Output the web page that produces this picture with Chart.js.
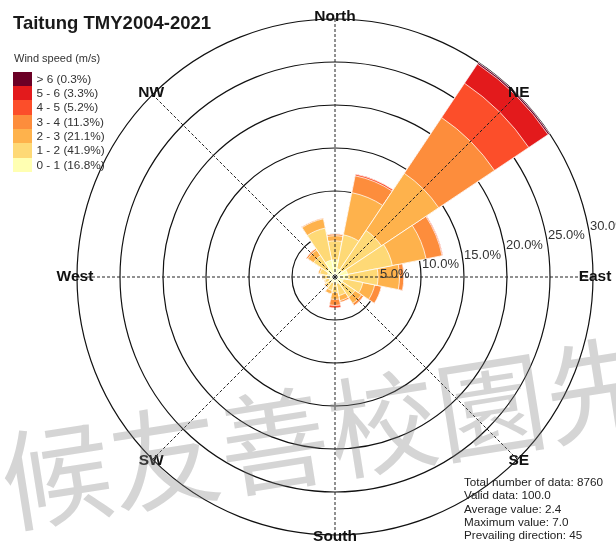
<!DOCTYPE html>
<html>
<head>
<meta charset="utf-8">
<script src="https://cdn.jsdelivr.net/npm/chart.js@4.4.1/dist/chart.umd.min.js"></script>
<style>
html,body{margin:0;padding:0;background:#fff;}
#wrap{position:relative;width:616px;height:548px;overflow:hidden;background:#fff;font-family:"Liberation Sans",Arial,sans-serif;}
#c{position:absolute;left:0;top:0;}
.title{position:absolute;left:13px;top:13.7px;font-size:18.5px;line-height:18.5px;font-weight:bold;color:#1a1a1a;white-space:nowrap;}
.lghead{position:absolute;left:14px;top:50px;font-size:11px;line-height:16px;color:#333;white-space:nowrap;}
.legend{position:absolute;left:13px;top:71.5px;}
.row{display:flex;align-items:center;height:14.35px;}
.sw{width:18.5px;height:14.35px;}
.lab{margin-left:5px;font-size:11.8px;line-height:14.35px;color:#333;white-space:nowrap;}
.stats{position:absolute;left:464px;top:475px;font-size:11.7px;line-height:13.33px;color:#222;white-space:nowrap;}
.wm{position:absolute;left:1px;top:414px;font-family:"Noto Sans CJK TC","Noto Sans CJK SC",sans-serif;font-size:110px;line-height:110px;color:rgba(128,128,128,0.33);white-space:nowrap;transform-origin:55px 60px;transform:rotate(-9deg);pointer-events:none;}
</style>
</head>
<body>
<div id="wrap">
  <canvas id="c" width="616" height="548"></canvas>
  <div class="title" id="title"></div>
  <div class="lghead" id="lghead"></div>
  <div class="legend" id="legend"></div>
  <div class="stats" id="stats"></div>
  <div class="wm" id="wm"></div>
</div>
<script>
// ---------- data ----------
const chartTitle = 'Taitung TMY2004-2021';
const legendTitle = 'Wind speed (m/s)';
const directions = ['N','NNE','NE','ENE','E','ESE','SE','SSE','S','SSW','SW','WSW','W','WNW','NW','NNW'];
const speedBins = ['0 - 1','1 - 2','2 - 3','3 - 4','4 - 5','5 - 6','> 6'];
const binShares = [16.8, 41.9, 21.1, 11.3, 5.2, 3.3, 0.3];
// frequency (%) per direction for each speed bin (N, NNE, NE, ENE, E, ESE, SE, SSE, S, SSW, SW, WSW, W, WNW, NW, NNW)
const freq0to1 = [2.0, 1.0, 1.0, 1.5, 1.5, 1.0, 1.0, 0.8, 0.6, 0.7, 0.7, 0.7, 0.8, 0.9, 1.2, 2.0];
const freq1to2 = [2.2, 4.0, 5.5, 5.3, 3.5, 2.3, 1.8, 1.4, 1.2, 0.9, 0.6, 0.5, 0.6, 0.9, 1.8, 3.8];
const freq2to3 = [0.6, 5.0, 8.0, 4.0, 2.5, 1.4, 0.9, 0.6, 0.8, 0.4, 0.2, 0.1, 0.1, 0.2, 0.8, 1.1];
const freq3to4 = [0.2, 2.0, 7.8, 1.9, 0.5, 0.8, 0.3, 0.2, 0.7, 0.0, 0.0, 0.0, 0.0, 0.0, 0.2, 0.1];
const freq4to5 = [0.0, 0.2, 4.8, 0.1, 0.0, 0.0, 0.0, 0.0, 0.3, 0.0, 0.0, 0.0, 0.0, 0.0, 0.0, 0.0];
const freq5to6 = [0.0, 0.0, 2.7, 0.0, 0.0, 0.0, 0.0, 0.0, 0.0, 0.0, 0.0, 0.0, 0.0, 0.0, 0.0, 0.0];
const freqAbove6 = [0.0, 0.0, 0.2, 0.0, 0.0, 0.0, 0.0, 0.0, 0.0, 0.0, 0.0, 0.0, 0.0, 0.0, 0.0, 0.0];
const ringValues = [5, 10, 15, 20, 25, 30];
const compassLabels = ['North','NE','East','SE','South','SW','West','NW'];
const compassDegrees = [0, 45, 90, 135, 180, 225, 270, 315];
const statsLines = ['Total number of data: 8760','Valid data: 100.0','Average value: 2.4','Maximum value: 7.0','Prevailing direction: 45'];
const watermarkText = '候友善校園先';

// ---------- styles ----------
const binColors = ['#FFFFB2','#FED976','#FEB24C','#FD8D3C','#FC4E2A','#E31A1C','#6B0026'];

// ---------- text ----------
document.getElementById('title').textContent = chartTitle;
document.getElementById('lghead').textContent = legendTitle;
const lg = document.getElementById('legend');
for (let k = speedBins.length - 1; k >= 0; k--) {
  const row = document.createElement('div'); row.className = 'row';
  const sw = document.createElement('div'); sw.className = 'sw'; sw.style.background = binColors[k];
  const lab = document.createElement('div'); lab.className = 'lab';
  lab.textContent = speedBins[k] + ' (' + binShares[k].toFixed(1) + '%)';
  row.appendChild(sw); row.appendChild(lab); lg.appendChild(row);
}
document.getElementById('stats').innerHTML = statsLines.map(t => '<div>' + t + '</div>').join('');
document.getElementById('wm').textContent = watermarkText;

// ---------- stacked (cumulative) datasets ----------
const bins = [freq0to1, freq1to2, freq2to3, freq3to4, freq4to5, freq5to6, freqAbove6];
const cumulative = [];
bins.forEach((arr, k) => {
  cumulative.push(arr.map((v, i) => (k === 0 ? 0 : cumulative[k - 1][i]) + v));
});
const datasets = cumulative.map((vals, k) => ({
  label: speedBins[k],
  data: vals.map(v => +v.toFixed(2)),
  backgroundColor: binColors[k],
  borderColor: 'rgba(255,255,255,0.75)',
  borderWidth: 1
}));

// ---------- overlay plugin: compass axes and labels ----------
const overlay = {
  id: 'overlay',
  afterDraw(chart) {
    const s = chart.scales.r, ctx = chart.ctx;
    const cx = s.xCenter, cy = s.yCenter, R = s.drawingArea;
    ctx.save();
    ctx.setLineDash([3, 2]);
    ctx.strokeStyle = '#222';
    ctx.lineWidth = 1;
    compassDegrees.forEach(d => {
      const a = d * Math.PI / 180;
      ctx.beginPath();
      ctx.moveTo(cx, cy);
      ctx.lineTo(cx + R * Math.sin(a), cy - R * Math.cos(a));
      ctx.stroke();
    });
    ctx.setLineDash([]);
    // ring labels
    ctx.font = '13px "Liberation Sans", Arial, sans-serif';
    ctx.fillStyle = '#333';
    ctx.textAlign = 'left';
    ctx.textBaseline = 'middle';
    ringValues.forEach(v => {
      const r = s.getDistanceFromCenterForValue(v);
      const dy = Math.max(0, 0.225 * r - 7);
      const dx = Math.sqrt(r * r - dy * dy) + 2;
      ctx.fillText(v.toFixed(1) + '%', cx + dx, cy - dy);
    });
    // compass labels
    ctx.font = 'bold 15.5px "Liberation Sans", Arial, sans-serif';
    ctx.fillStyle = '#111';
    ctx.textAlign = 'center';
    compassLabels.forEach((t, i) => {
      const a = compassDegrees[i] * Math.PI / 180;
      const rr = R + 2;
      ctx.fillText(t, cx + rr * Math.sin(a), cy - rr * Math.cos(a));
    });
    ctx.restore();
  }
};

new Chart(document.getElementById('c'), {
  type: 'polarArea',
  data: { labels: directions, datasets: datasets },
  options: {
    responsive: false,
    animation: false,
    devicePixelRatio: 1,
    events: [],
    layout: { padding: { top: 19, bottom: 13, left: 65, right: 11 } },
    plugins: { legend: { display: false }, tooltip: { enabled: false }, title: { display: false } },
    scales: {
      r: {
        z: 1,
        min: 0,
        max: 30,
        startAngle: -11.25,
        ticks: { display: false, stepSize: 5 },
        grid: { circular: true, color: '#111', lineWidth: 1.2 },
        angleLines: { display: false },
        pointLabels: { display: false }
      }
    }
  },
  plugins: [overlay]
});
</script>
</body>
</html>
